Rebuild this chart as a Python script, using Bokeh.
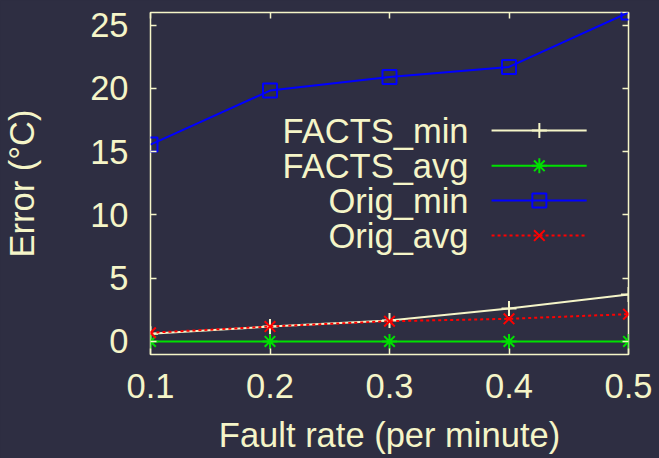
from bokeh.plotting import figure
from bokeh.models import LinearAxis, Range1d, FixedTicker, ColumnDataSource
from bokeh.embed import file_html
from bokeh.resources import INLINE
from bokeh.core.properties import value

# ---- data ----
fault_rate = [0.1, 0.2, 0.3, 0.4, 0.5]
facts_min = [0.61, 1.18, 1.66, 2.6, 3.71]
facts_avg = [0.0, 0.0, 0.0, 0.0, 0.0]
orig_min = [15.56, 19.83, 20.9, 21.7, 26.0]
orig_avg = [0.69, 1.18, 1.6, 1.79, 2.16]

x_ticks = [0.1, 0.2, 0.3, 0.4, 0.5]
y_ticks = [0, 5, 10, 15, 20, 25]
series_names = ["FACTS_min", "FACTS_avg", "Orig_min", "Orig_avg"]

# ---- styles ----
BG = "#2e2e42"
FG = "#f5f5c8"
FONT = "Liberation Sans"
FS = "34.5px"
colors = [FG, "#00e000", "#0000ff", "#ff0000"]
markers = ["cross", "asterisk", "square", "x"]
dashes = ["solid", "solid", "solid", "3 3"]
msize = [15, 15, 14, 15]

p = figure(width=659, height=458, output_backend="svg", toolbar_location=None,
           x_range=Range1d(0.1, 0.5), y_range=Range1d(-1.03, 26.0),
           background_fill_color=BG, border_fill_color=BG,
           min_border_left=146, min_border_right=31, min_border_top=12,
           min_border_bottom=104)
p.outline_line_color = FG
p.outline_line_width = 1.5
p.grid.visible = False

def style_axis(ax, labels=True):
    ax.axis_line_color = None
    ax.major_tick_line_color = FG
    ax.major_tick_line_width = 1.5
    ax.major_tick_in = 6
    ax.major_tick_out = 0
    ax.minor_tick_line_color = None
    ax.major_label_text_font = FONT
    ax.major_label_text_font_size = FS if labels else "0px"
    ax.major_label_text_color = FG
    ax.axis_label_text_font = FONT
    ax.axis_label_text_font_size = FS
    ax.axis_label_text_color = FG
    ax.axis_label_text_font_style = "normal"

p.xaxis.ticker = FixedTicker(ticks=x_ticks)
p.yaxis.ticker = FixedTicker(ticks=y_ticks)
p.xaxis.axis_label = "Fault rate (per minute)"
p.yaxis.axis_label = "Error (°C)"
style_axis(p.xaxis[0])
style_axis(p.yaxis[0])
p.xaxis.major_label_standoff = 19
p.yaxis.major_label_standoff = 22
p.xaxis.axis_label_standoff = 15
p.yaxis.axis_label_standoff = 46

top_ax = LinearAxis(ticker=FixedTicker(ticks=x_ticks))
right_ax = LinearAxis(ticker=FixedTicker(ticks=y_ticks))
style_axis(top_ax, labels=False)
style_axis(right_ax, labels=False)
top_ax.major_label_standoff = 0
right_ax.major_label_standoff = 0
p.add_layout(top_ax, "above")
p.add_layout(right_ax, "right")

series = [facts_min, facts_avg, orig_min, orig_avg]
for ys, c, m, d, s in zip(series, colors, markers, dashes, msize):
    src = ColumnDataSource(dict(x=fault_rate, y=ys))
    p.line("x", "y", source=src, line_color=c, line_width=2, line_dash=d)
    p.scatter("x", "y", source=src, marker=m, size=s, line_color=c,
              fill_color=None, line_width=2)

# ---- legend (label text then sample line with marker) ----
leg_y = [16.67, 13.88, 11.14, 8.37]
leg_text_x = [0.3661] * 4
leg_x0, leg_x1, leg_xm = 0.3854, 0.4650, 0.4254
p.text(x=leg_text_x, y=leg_y, text=series_names, text_align="right",
       text_baseline="middle", text_font=value(FONT), text_font_size=FS,
       text_color=FG)
for yy, c, m, d, s in zip(leg_y, colors, markers, dashes, msize):
    p.line([leg_x0, leg_x1], [yy, yy], line_color=c, line_width=2, line_dash=d)
    p.scatter([leg_xm], [yy], marker=m, size=s, line_color=c,
              fill_color=None, line_width=2)

html = file_html(p, INLINE)
html = html.replace("<body>", '<body style="background-color:%s;">' % BG)
open("out.html", "w").write(html)
